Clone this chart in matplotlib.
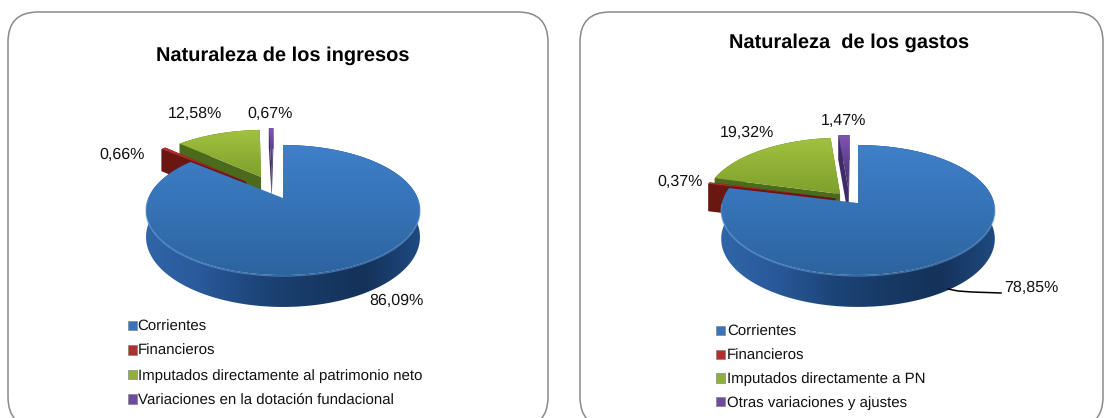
import numpy as np
import matplotlib
matplotlib.use("Agg")
import matplotlib.pyplot as plt
from matplotlib.patches import FancyBboxPatch, Polygon, Patch
from matplotlib.colors import LinearSegmentedColormap

plt.rcParams['font.family'] = ['Liberation Sans', 'DejaVu Sans']
plt.rcParams['text.hinting'] = 'no_hinting'
plt.rcParams['text.hinting_factor'] = 1

# ---- data ----
title_left = "Naturaleza de los ingresos"
title_right = "Naturaleza  de los gastos"
cats_left = ["Corrientes", "Financieros", "Imputados directamente al patrimonio neto",
             "Variaciones en la dotación fundacional"]
cats_right = ["Corrientes", "Financieros", "Imputados directamente a PN",
              "Otras variaciones y ajustes"]
vals_left = [86.09, 0.66, 12.58, 0.67]
vals_right = [78.85, 0.37, 19.32, 1.47]
labels_left = ["86,09%", "0,66%", "12,58%", "0,67%"]
labels_right = ["78,85%", "0,37%", "19,32%", "1,47%"]

# ---- style ----
TOP = [("#3f80cb", "#2c649f"), ("#b83030", "#962020"), ("#a2c23f", "#7ea02c"), ("#8055b2", "#3d2a66")]
WALL = [None, "#6a1712", "#4c6a1c", "#3d2a66"]
LEG = ["#3a74b8", "#b03030", "#8fb03a", "#6f4b9e"]
side_cmap = LinearSegmentedColormap.from_list("s", ["#2f66a8", "#29599a", "#1d4579", "#173a66", "#14325a", "#1f4a80"])

fig = plt.figure(figsize=(11.11, 4.18), dpi=100)
ax = fig.add_axes([0, 0, 1, 1])
ax.set_xlim(0, 1111)
ax.set_ylim(418, 0)
ax.axis("off")


def project(x, y, g):
    w = 1 + g["k"] * y
    return g["cx"] + g["sx"] * x / w, g["cy"] - g["sy"] * y / w, g["d"] / w


def grad_fill(poly_xy, colors, horizontal=False, z=3):
    poly = Polygon(poly_xy, closed=True, fc="none", ec="none", transform=ax.transData)
    ax.add_patch(poly)
    x0, y0 = poly_xy.min(axis=0)
    x1, y1 = poly_xy.max(axis=0)
    cmap = colors if hasattr(colors, "N") else LinearSegmentedColormap.from_list("g", colors)
    if horizontal:
        arr = np.linspace(0, 1, 256)[None, :]
    else:
        arr = np.linspace(0, 1, 256)[:, None]
    im = ax.imshow(arr, extent=[x0, x1, y1, y0], cmap=cmap, aspect="auto", zorder=z, interpolation="bilinear")
    im.set_clip_path(poly)
    ax.set_xlim(0, 1111)
    ax.set_ylim(418, 0)


def pie3d(vals, g, z0=2):
    a = 90.0
    slices = []
    total = sum(vals)
    for i, v in enumerate(vals):
        a2 = a - v / total * 360
        slices.append((i, a, a2))
        a = a2
    # painter's order: back slices first, biggest (front) slice last
    for i, a1, a2 in [slices[3], slices[2], slices[1], slices[0]]:
        t = np.radians(np.linspace(a1, a2, 240))
        ox, oy = g["off"][i]
        ax_, ay_ = ox + np.cos(t), oy + np.sin(t)
        px, py, pd = project(ax_, ay_, g)
        qx, qy, qd = project(np.array([ox]), np.array([oy]), g)
        z = z0
        top = np.column_stack([np.r_[qx, px], np.r_[qy, py]])
        band = np.column_stack([np.r_[px, px[::-1]], np.r_[py, (py + pd)[::-1]]])
        if i == 0:
            grad_fill(band, side_cmap, horizontal=True, z=z + 4)
            grad_fill(top, TOP[0], z=z + 5)
            front = np.sin(t) < 0
            ax.plot(px[front], py[front] + 1, color="#5f97d6", lw=1.0, alpha=0.6, zorder=z + 6)
        else:
            zi = z + (3 - i)
            for k in (0, -1):
                face = np.array([[qx[0], qy[0]], [px[k], py[k]], [px[k], py[k] + pd[k]], [qx[0], qy[0] + qd[0]]])
                ax.add_patch(Polygon(face, closed=True, fc=WALL[i], ec="none", zorder=zi))
            ax.add_patch(Polygon(band, closed=True, fc=WALL[i], ec="none", zorder=zi))
            grad_fill(top, TOP[i], z=zi + 0.5)


# frames
for x0, x1 in ((8, 548), (580, 1103)):
    ax.add_patch(FancyBboxPatch((x0 + 30, 42), x1 - x0 - 60, 355,
                                boxstyle="round,pad=30,rounding_size=30",
                                fc="white", ec="#8a8a8a", lw=1.1, zorder=1, clip_on=True))

g_left = dict(cx=283, cy=198, sx=134.6, sy=62.8, k=0.185, d=26,
              off=[(0, 0), (-0.287, 0.27), (-0.174, 0.357), (-0.09, 0.404)])
g_right = dict(cx=858, cy=203, sx=136, sy=64.2, k=0.108, d=28.5,
               off=[(0, 0), (-0.166, 0.072), (-0.134, 0.142), (-0.07, 0.196)])
pie3d(vals_left, g_left)
pie3d(vals_right, g_right)

# titles
ax.text(283, 56, title_left, ha="center", va="center", fontsize=14.5, fontweight="bold", color="black", zorder=20)
ax.text(849, 43, title_right, ha="center", va="center", fontsize=14.4, fontweight="bold", color="black", zorder=20)

# data labels
pos_left = [(396, 301), (122, 155), (195, 114), (270, 114)]
pos_right = [(1031, 288), (680, 182), (747, 133), (843, 121)]
for txts, pos in ((labels_left, pos_left), (labels_right, pos_right)):
    for s, (x, y) in zip(txts, pos):
        ax.text(x, y, s, ha="center", va="center", fontsize=11.4, color="#111111", zorder=20)
ax.plot([948, 958, 972, 1001], [289, 291, 292, 293], color="black", lw=1.1, zorder=19)

# legends
def legend(cats, anchor, spacing, pad):
    h = [Patch(fc=c, ec="#777777", lw=0.4, label=s) for c, s in zip(LEG, cats)]
    leg = ax.legend(handles=h, loc="upper left", bbox_to_anchor=anchor, bbox_transform=ax.transData,
                    frameon=False, fontsize=10.7, handlelength=0.6, handleheight=0.6,
                    handletextpad=pad, labelspacing=spacing, borderpad=0, borderaxespad=0, labelcolor="#111111")
    leg.set_zorder(20)
    return leg

ax.add_artist(legend(cats_left, (128, 320), 0.70, 0.05))
legend(cats_right, (716, 325), 0.65, 0.15)

fig.savefig("out.png", dpi=100)
